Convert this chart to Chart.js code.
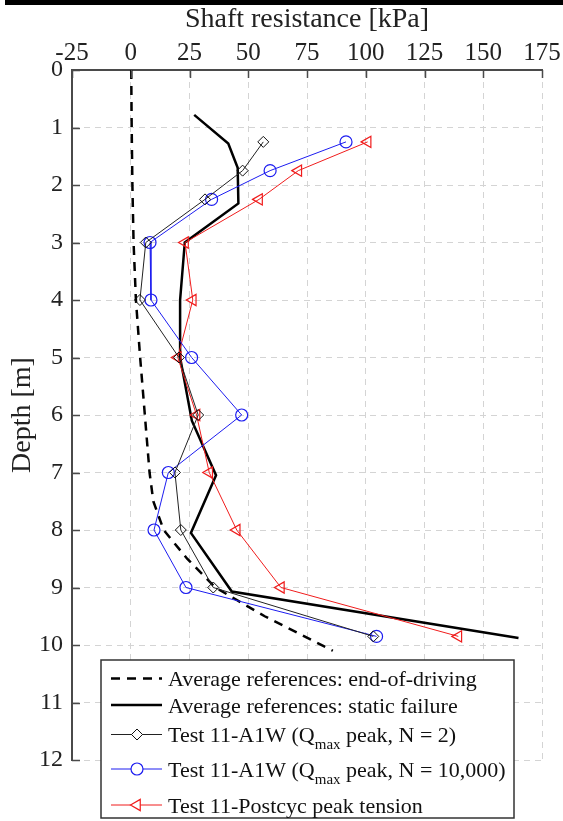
<!DOCTYPE html>
<html>
<head>
<meta charset="utf-8">
<script src="https://cdn.jsdelivr.net/npm/chart.js@4.4.1/dist/chart.umd.min.js"></script>
<style>
  html, body { margin: 0; padding: 0; background: #fff; }
  #wrap { width: 563px; height: 821px; position: relative; }
</style>
</head>
<body>
<div id="wrap"><canvas id="shaftChart"></canvas></div>
<script>
// depth profiles, shaft resistance in kPa against depth in m
const refDepthEod = [0, 1, 2, 3, 4, 5, 6, 7, 7.5, 8, 8.5, 9, 9.5, 10.1];
const refEod = [0.2, 0.4, 0.7, 1.2, 2.2, 4.0, 6.0, 8.0, 9.6, 14, 24, 36, 57, 86];

const refDepthStatic = [0.78, 1.28, 1.7, 2.32, 3.0, 4, 5, 6.1, 7.05, 8.05, 9.07, 9.88];
const refStatic = [27, 41.5, 45.5, 45.8, 23, 21, 21, 26, 36.3, 25.6, 43, 165];

const testDepth = [1.25, 1.75, 2.25, 3, 4, 5, 6, 7, 8, 9, 9.85];
const testN2 = [56.4, 47.6, 31.6, 6.4, 3.9, 20.5, 28.7, 18.8, 21.3, 35.1, 103.2];
const testN10000 = [91.6, 59.3, 34.4, 8.2, 8.6, 25.9, 47.2, 16, 9.9, 23.5, 104.6];
const testPostcyc = [100.8, 71.3, 54.6, 23.1, 26.4, 20, 28, 33.4, 45.1, 63.9, 139.4];

const xTicks = [-25, 0, 25, 50, 75, 100, 125, 150, 175];
const yTicks = [0, 1, 2, 3, 4, 5, 6, 7, 8, 9, 10, 11, 12];

function pts(xs, ys) {
    return xs.map((v, i) => ({ x: v, y: ys[i] }));
}

const serif = "'Liberation Serif', 'DejaVu Serif', serif";
const axisGrey = '#4a4a4a';

// inward tick marks, page rule and the legend box
const decorations = {
    id: 'decorations',
    afterDraw(chart) {
        const ctx = chart.ctx;
        const xs = chart.scales.x, ys = chart.scales.y;
        const area = chart.chartArea;

        ctx.save();
        ctx.fillStyle = '#000';
        ctx.fillRect(5, 0, 558, 5);

        ctx.strokeStyle = axisGrey;
        ctx.lineWidth = 1.5;
        ctx.beginPath();
        xTicks.forEach(t => {
            const px = Math.round(xs.getPixelForValue(t)) + 0.5;
            ctx.moveTo(px, area.top);
            ctx.lineTo(px, area.top + 8);
        });
        yTicks.forEach(t => {
            const py = Math.round(ys.getPixelForValue(t)) + 0.5;
            ctx.moveTo(area.left, py);
            ctx.lineTo(area.left + 8, py);
        });
        ctx.stroke();

        // legend
        const bx = 101, by = 660, bw = 413, bh = 158;
        ctx.fillStyle = '#fff';
        ctx.fillRect(bx, by, bw, bh);
        ctx.strokeStyle = '#333';
        ctx.lineWidth = 1.5;
        ctx.strokeRect(bx, by, bw, bh);

        const rows = [
            { y: 678.5, ds: 0, parts: [['Average references: end-of-driving']] },
            { y: 705, ds: 1, parts: [['Average references: static failure']] },
            { y: 734.5, ds: 2, parts: [['Test 11-A1W (Q'], ['max', 1], [' peak, N = 2)']] },
            { y: 769, ds: 3, parts: [['Test 11-A1W (Q'], ['max', 1], [' peak, N = 10,000)']] },
            { y: 805, ds: 4, parts: [['Test 11-Postcyc peak tension']] }
        ];
        rows.forEach(r => {
            const d = chart.data.datasets[r.ds];
            ctx.save();
            ctx.strokeStyle = d.borderColor;
            ctx.lineWidth = d.borderWidth;
            ctx.setLineDash(d.borderDash || []);
            ctx.beginPath();
            ctx.moveTo(111, r.y);
            ctx.lineTo(162, r.y);
            ctx.stroke();
            ctx.restore();
            if (d.pointRadius > 0) {
                ctx.save();
                ctx.strokeStyle = d.pointBorderColor;
                ctx.fillStyle = '#fff';
                ctx.lineWidth = d.pointBorderWidth;
                Chart.helpers.drawPoint(ctx, {
                    pointStyle: d.pointStyle,
                    radius: d.pointRadius,
                    rotation: d.pointRotation || 0,
                    borderWidth: d.pointBorderWidth
                }, 137, r.y);
                ctx.restore();
            }
            let tx = 168;
            ctx.fillStyle = '#111';
            ctx.textBaseline = 'alphabetic';
            r.parts.forEach(p => {
                const sub = p[1] === 1;
                ctx.font = (sub ? '15px ' : '22px ') + serif;
                const base = r.y + 7.5 + (sub ? 7 : 0);
                ctx.fillText(p[0], tx, base);
                tx += ctx.measureText(p[0]).width;
            });
        });
        ctx.restore();
    }
};

const ctx = document.getElementById('shaftChart').getContext('2d');
new Chart(ctx, {
    type: 'scatter',
    data: {
        datasets: [
            {
                label: 'Average references: end-of-driving',
                data: pts(refEod, refDepthEod),
                showLine: true,
                borderColor: '#000',
                borderWidth: 2.5,
                borderDash: [9, 7],
                pointRadius: 0,
                order: 2
            },
            {
                label: 'Average references: static failure',
                data: pts(refStatic, refDepthStatic),
                showLine: true,
                borderColor: '#000',
                borderWidth: 2.5,
                pointRadius: 0,
                order: 2
            },
            {
                label: 'Test 11-A1W (Qmax peak, N = 2)',
                data: pts(testN2, testDepth),
                showLine: true,
                borderColor: '#222',
                borderWidth: 1,
                pointStyle: 'rectRot',
                pointRadius: 5.5,
                pointBorderColor: '#111',
                pointBorderWidth: 1,
                pointBackgroundColor: 'rgba(0,0,0,0)',
                order: 1
            },
            {
                label: 'Test 11-A1W (Qmax peak, N = 10,000)',
                data: pts(testN10000, testDepth),
                showLine: true,
                borderColor: '#1c1cf0',
                borderWidth: 1,
                pointStyle: 'circle',
                pointRadius: 6,
                pointBorderColor: '#1c1cf0',
                pointBorderWidth: 1.2,
                pointBackgroundColor: 'rgba(0,0,0,0)',
                order: 1
            },
            {
                label: 'Test 11-Postcyc peak tension',
                data: pts(testPostcyc, testDepth),
                showLine: true,
                borderColor: '#f01c1c',
                borderWidth: 1,
                pointStyle: 'triangle',
                pointRotation: -90,
                pointRadius: 6.5,
                pointBorderColor: '#f01c1c',
                pointBorderWidth: 1.2,
                pointBackgroundColor: 'rgba(0,0,0,0)',
                order: 1
            }
        ]
    },
    options: {
        responsive: true,
        maintainAspectRatio: false,
        animation: false,
        layout: { padding: { top: 0, left: 0, right: 21, bottom: 61 } },
        plugins: {
            legend: { display: false },
            tooltip: { enabled: false }
        },
        scales: {
            x: {
                type: 'linear',
                position: 'top',
                min: -25,
                max: 175,
                afterBuildTicks: s => { s.ticks = xTicks.map(v => ({ value: v })); },
                afterFit: s => { s.height = 70; },
                ticks: {
                    font: { family: serif, size: 25 },
                    color: '#222',
                    padding: 2,
                    maxRotation: 0
                },
                grid: { color: '#d4d4d4', lineWidth: 1, drawTicks: false },
                border: { display: true, color: axisGrey, width: 2, dash: [6, 5] },
                title: {
                    display: true,
                    text: 'Shaft resistance [kPa]',
                    font: { family: serif, size: 28 },
                    color: '#222',
                    padding: { top: 3, bottom: 0 }
                }
            },
            y: {
                type: 'linear',
                reverse: true,
                min: 0,
                max: 12,
                afterBuildTicks: s => { s.ticks = yTicks.map(v => ({ value: v })); },
                afterFit: s => { s.width = 72; },
                ticks: {
                    font: { family: serif, size: 24 },
                    color: '#222',
                    padding: 9
                },
                grid: { color: '#d4d4d4', lineWidth: 1, drawTicks: false },
                border: { display: true, color: axisGrey, width: 2, dash: [6, 5] },
                title: {
                    display: true,
                    text: 'Depth [m]',
                    font: { family: serif, size: 28 },
                    color: '#222',
                    padding: { top: 6, bottom: 0 }
                }
            }
        }
    },
    plugins: [decorations]
});
</script>
</body>
</html>
